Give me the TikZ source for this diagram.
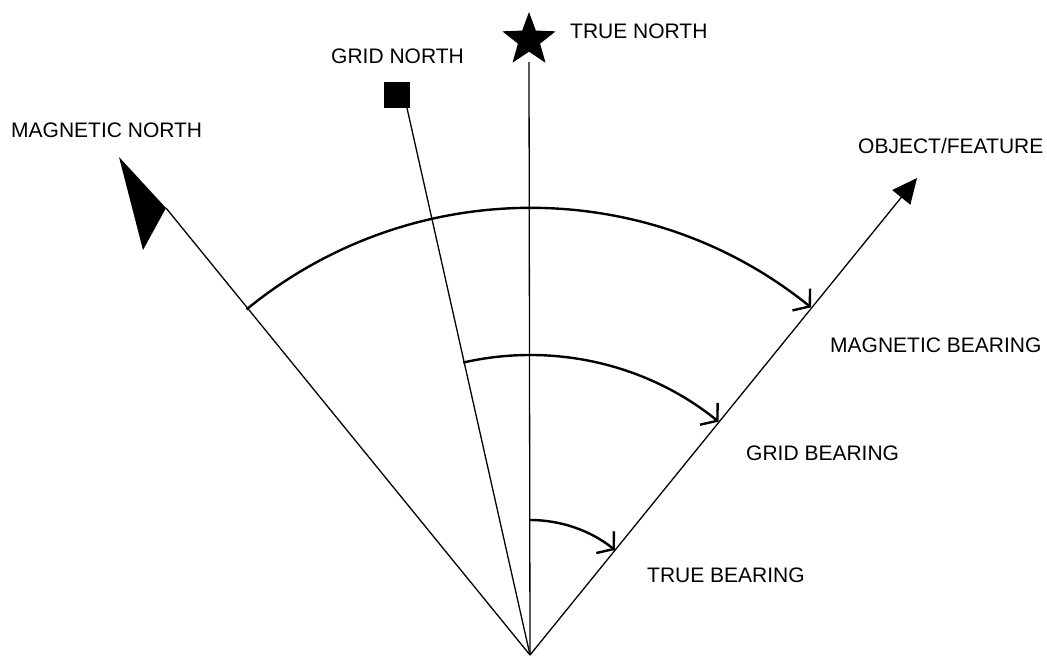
\documentclass[tikz,border=0pt]{standalone}
\usepackage{fontspec}
\setmainfont{Liberation Sans}
\usetikzlibrary{shapes.geometric,arrows.meta}
\begin{document}
\begin{tikzpicture}[x=1pt,y=-1pt,
  lbl/.style={anchor=base west,inner sep=0pt,font=\fontsize{21}{24}\selectfont},
  ray/.style={line width=1.3pt},
  bear/.style={line width=2.4pt,-{Straight Barb[length=11pt,width=28pt,line width=2.4pt]}}]
\useasboundingbox (0,0) rectangle (1047,656);
\coordinate (O) at (530,655);
% markers
\node[star,star points=5,star point ratio=2.4,minimum size=56pt,inner sep=0pt,fill=black] (star) at (529,40) {};
\node[rectangle,minimum size=26pt,inner sep=0pt,fill=black] (sq) at (397,95) {};
\coordinate (mtip) at (166,208);
\fill (119,157) -- (mtip) -- (143,250) -- cycle;
\coordinate (tn) at (529,62);
\coordinate (gn) at (407,108);
\coordinate (obj) at (917,178);
% rays
\draw[ray] (O) -- (tn);
\draw[ray] (O) -- (gn);
\draw[ray] (O) -- (mtip);
\draw[ray,-{Triangle[length=25pt,width=23pt]}] (O) -- (obj);
% bearing arcs
\draw[bear] (O) ++(-129.36:447) arc[start angle=-129.36,end angle=-51.05,radius=447];
\draw[bear] (O) ++(-102.87:300) arc[start angle=-102.87,end angle=-51.05,radius=300];
\draw[bear] (O) ++(-90:135) arc[start angle=-90,end angle=-51.05,radius=135];
% labels
\node[lbl] (lmn) at (11,137) {MAGNETIC NORTH};
\node[lbl] (lgn) at (331,63) {GRID NORTH};
\node[lbl] (ltn) at (570,38.5) {TRUE NORTH};
\node[lbl] (lobj) at (858,153) {OBJECT/FEATURE};
\node[lbl] (lmb) at (830,352.5) {MAGNETIC BEARING};
\node[lbl] (lgb) at (746,460.5) {GRID BEARING};
\node[lbl] (ltb) at (647,582) {TRUE BEARING};
\end{tikzpicture}
\end{document}
